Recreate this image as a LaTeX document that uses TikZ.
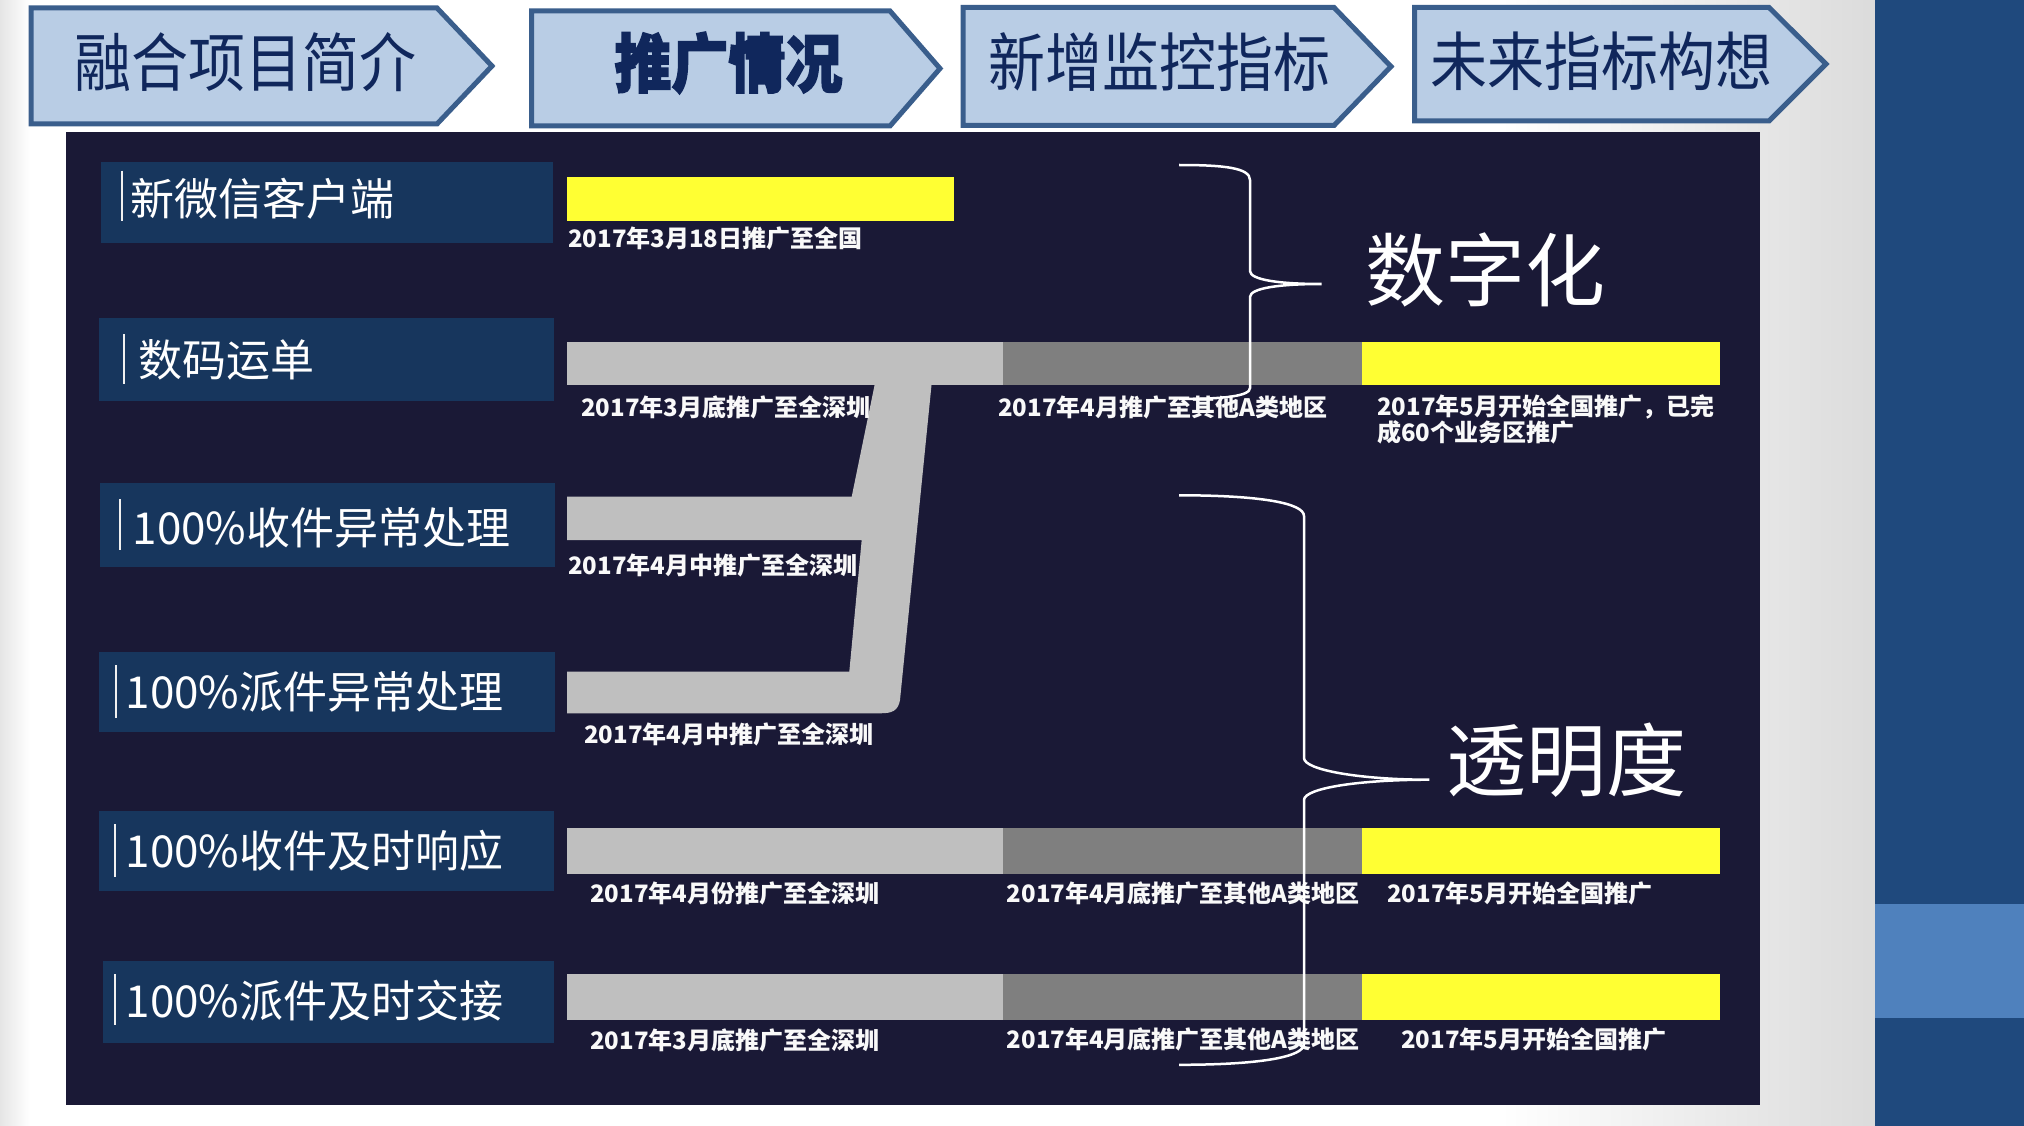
\documentclass[tikz,border=0pt]{standalone}
\usepackage{fontspec}
\setmainfont{Noto Sans CJK SC}
\newfontfamily\heavyfont[FakeBold=2.5]{Noto Sans CJK SC}
\usetikzlibrary{calc}
\definecolor{chevfill}{HTML}{B9CDE5}
\definecolor{chevline}{HTML}{3A5E8C}
\definecolor{chevtext}{HTML}{10275C}
\definecolor{panel}{HTML}{1A1936}
\definecolor{labboxc}{HTML}{17365D}
\definecolor{lgray}{HTML}{BFBFBF}
\definecolor{dgray}{HTML}{7F7F7F}
\definecolor{hiyellow}{rgb}{1,1,0.2}
\definecolor{band}{HTML}{1F497D}
\definecolor{bandlight}{HTML}{4F81BD}
\begin{document}
\begin{tikzpicture}[x=1pt,y=-1pt,
  chev/.style={fill=chevfill, draw=chevline, line width=5pt, line join=miter},
  chevtxt/.style={text=chevtext, font=\fontsize{57}{60}\selectfont, inner sep=0},
  labbox/.style={fill=labboxc},
  labbar/.style={draw=white!88!gray, line width=2pt},
  labtxt/.style={text=white, font=\fontsize{44}{48}\selectfont, anchor=west, inner sep=0},
  barlbl/.style={text=white!95!gray, font=\bfseries\fontsize{24}{24}\selectfont, anchor=west, inner sep=0, align=left},
  yelfill/.style={fill=hiyellow},
  brace/.style={draw=white, line width=2.5pt},
  bigtxt/.style={text=white, font=\fontsize{80}{84}\selectfont, inner sep=0}]
\useasboundingbox (0,0) rectangle (2024,1126);
% page background
\fill[white] (0,0) rectangle (2024,1126);
\shade[left color=black!10, right color=white] (0,0) rectangle (30,1126);
\shade[left color=white, right color=black!14] (1500,0) rectangle (1875,1126);
\fill[band] (1875,0) rectangle (2024,1126);
\fill[bandlight] (1875,904) rectangle (2024,1017.5);
% chevrons
\draw[chev] (31,8) -- (437,8) -- (492,66) -- (437,124) -- (31,124) -- cycle;
\draw[chev] (531.5,11) -- (890,11) -- (940,68.5) -- (890,126) -- (531.5,126) -- cycle;
\draw[chev] (963,7.5) -- (1334,7.5) -- (1391,66.5) -- (1334,125.5) -- (963,125.5) -- cycle;
\draw[chev] (1414.5,7.5) -- (1769,7.5) -- (1826,64) -- (1769,121) -- (1414.5,121) -- cycle;
\node[chevtxt] (c1) at (245.5,62) {\scalebox{1}[1.12]{融合项目简介}};
\node[chevtxt] (c2) at (728.5,63) {\scalebox{1}[1.12]{\heavyfont\bfseries 推广情况}};
\node[chevtxt] (c3) at (1159.5,62.5) {\scalebox{1}[1.12]{新增监控指标}};
\node[chevtxt] (c4) at (1601.5,61.5) {\scalebox{1}[1.12]{未来指标构想}};
% dark panel
\fill[panel] (65.7,131.7) rectangle (1759.5,1105);
% label boxes
\fill[labbox] (100.7,161.7) rectangle (552.5,243);
\fill[labbox] (98.5,318) rectangle (553.7,400.7);
\fill[labbox] (100,483.3) rectangle (555,566.7);
\fill[labbox] (98.5,651.7) rectangle (555,731.7);
\fill[labbox] (98.5,810.7) rectangle (553.7,890.7);
\fill[labbox] (103,960.7) rectangle (553.7,1042.7);
\draw[labbar] (122,170.7) -- (122,220.7);
\draw[labbar] (123.7,334) -- (123.7,384);
\draw[labbar] (119.7,499) -- (119.7,550);
\draw[labbar] (116,665) -- (116,718);
\draw[labbar] (114.5,824) -- (114.5,877);
\draw[labbar] (114.5,974) -- (114.5,1025);
\node[labtxt] (l1) at (130,198.5) {新微信客户端};
\node[labtxt] (l2) at (138,360) {数码运单};
\node[labtxt] (l3) at (132.5,527.5) {100\%收件异常处理};
\node[labtxt] (l4) at (125.5,692) {100\%派件异常处理};
\node[labtxt] (l5) at (125.5,850.5) {100\%收件及时响应};
\node[labtxt] (l6) at (125.5,1000.5) {100\%派件及时交接};
% bars
\fill[yelfill] (567,176.7) rectangle (954,221);
\fill[lgray] (567,342.3) rectangle (1002.7,385);
\fill[dgray] (1002.7,342.3) rectangle (1361.7,385);
\fill[yelfill] (1361.7,342.3) rectangle (1719.5,385);
\fill[lgray] (567,496.7) -- (851.7,496.7) -- (875,383) -- (931.7,383) -- (900,700)
   .. controls (898,711) and (892,713.3) .. (880,713.3) -- (567,713.3) -- (567,671.7)
   -- (849.3,671.7) -- (861.7,540) -- (567,540) -- cycle;
\fill[lgray] (567,828.3) rectangle (1002.7,874);
\fill[dgray] (1002.7,828.3) rectangle (1361.7,874);
\fill[yelfill] (1361.7,828.3) rectangle (1719.5,874);
\fill[lgray] (567,974) rectangle (1002.7,1020);
\fill[dgray] (1002.7,974) rectangle (1361.7,1020);
\fill[yelfill] (1361.7,974) rectangle (1719.5,1020);
% bar labels
\node[barlbl] (t1) at (568,238.5) {2017年3月18日推广至全国};
\node[barlbl] (t2a) at (581,407.5) {2017年3月底推广至全深圳};
\node[barlbl] (t2b) at (998,407.5) {2017年4月推广至其他A类地区};
\node[barlbl] (t2c) at (1377,419.6) {2017年5月开始全国推广，已完\\成60个业务区推广};
\node[barlbl] (t3) at (568,565) {2017年4月中推广至全深圳};
\node[barlbl] (t4) at (584,734.5) {2017年4月中推广至全深圳};
\node[barlbl] (t5a) at (590,893) {2017年4月份推广至全深圳};
\node[barlbl] (t5b) at (1006.7,893) {2017年4月底推广至其他A类地区};
\node[barlbl] (t5c) at (1387,893) {2017年5月开始全国推广};
\node[barlbl] (t6a) at (590,1040) {2017年3月底推广至全深圳};
\node[barlbl] (t6b) at (1006.7,1039) {2017年4月底推广至其他A类地区};
\node[barlbl] (t6c) at (1401,1039) {2017年5月开始全国推广};
% braces
\coordinate (tipA) at (1321.7,284);
\coordinate (tipB) at (1429.3,779.7);
\draw[brace] (1179,165) .. controls (1225,165) and (1250,168) .. (1250,180) -- (1250,271)
   .. controls (1250,280) and (1280,284) .. (tipA)
   .. controls (1280,284) and (1250,288) .. (1250,297) -- (1250,388)
   .. controls (1250,396) and (1225,399) .. (1179,399);
\draw[brace] (1179,495.3) .. controls (1260,495.3) and (1304,503) .. (1304,516) -- (1304,758)
   .. controls (1304,770) and (1360,779.7) .. (tipB)
   .. controls (1360,779.7) and (1304,788) .. (1304,800) -- (1304,1044)
   .. controls (1304,1057) and (1260,1064.8) .. (1179,1064.8);
\node[bigtxt] (dg) at (1485,270) {数字化};
\node[bigtxt] (tm) at (1566,760.5) {透明度};
\end{tikzpicture}
\end{document}
